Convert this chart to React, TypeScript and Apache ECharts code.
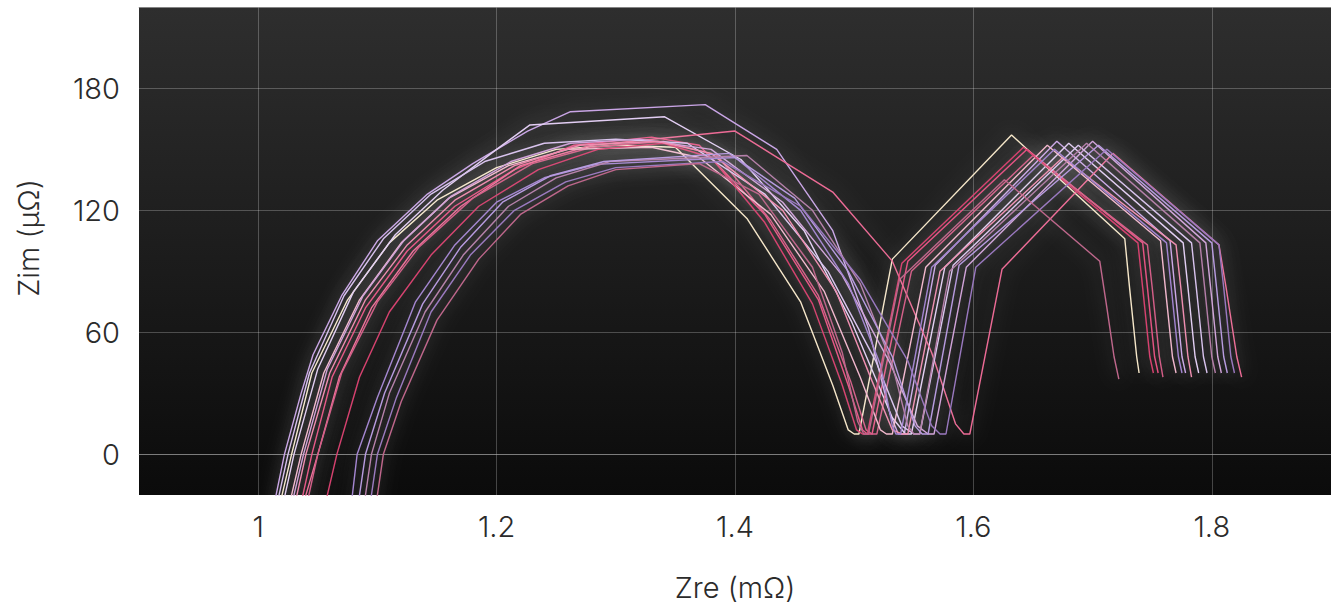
import React, { useEffect, useRef } from "react";
import * as echarts from "echarts";

// X axis: Zre (mΩ), Y axis: Zim (μΩ)
const xTickLabels = ["1", "1.2", "1.4", "1.6", "1.8"];
const yTickLabels = ["0", "60", "120", "180"];

const lineColors = [
  "#f6e7c9", "#e8497e", "#c9a4e6", "#e2cdf3", "#ee6a96", "#d55a86",
  "#f2b6cc", "#d93f6f", "#d8c2ee", "#cfa0d8", "#f08db0",
  "#a283d0", "#b47ca8", "#b79ae0", "#9a78c0", "#c0668c",
];

const line1 = [[1.012,-40],[1.028,0],[1.045,40],[1.075,76],[1.11,104],[1.15,125],[1.2,141],[1.25,150],[1.3,152],[1.35,151],[1.41,116],[1.455,75],[1.482,34],[1.495,12],[1.5,10],[1.504,10],[1.532,96],[1.632,157],[1.727,106],[1.731,82],[1.737,48],[1.739,40]];
const line2 = [[1.03,-40],[1.045,0],[1.062,38],[1.09,72],[1.125,100],[1.165,122],[1.215,140],[1.265,152],[1.33,156],[1.37,152],[1.425,118],[1.47,76],[1.495,34],[1.507,12],[1.511,10],[1.515,10],[1.545,95],[1.645,150],[1.742,104],[1.746,82],[1.752,48],[1.755,40]];
const line3 = [[1.008,-40],[1.022,0],[1.036,30],[1.046,49],[1.07,78],[1.1,105],[1.142,128],[1.18,143],[1.226,159],[1.262,168.5],[1.375,172],[1.435,150],[1.482,110],[1.512,62],[1.53,20],[1.537,10],[1.542,10],[1.568,93],[1.67,154],[1.765,105],[1.769,82],[1.775,48],[1.778,40]];
const line4 = [[1.015,-40],[1.03,0],[1.05,42],[1.08,80],[1.115,108],[1.155,130],[1.2,150],[1.228,162],[1.341,166],[1.405,145],[1.458,110],[1.498,65],[1.532,18],[1.543,10],[1.548,10],[1.576,92],[1.68,153],[1.776,104],[1.78,82],[1.786,48],[1.789,40]];
const line5 = [[1.03,-40],[1.05,0],[1.068,38],[1.095,72],[1.13,100],[1.17,122],[1.22,142],[1.28,152],[1.4,159],[1.482,129],[1.532,95],[1.565,50],[1.585,15],[1.592,10],[1.597,10],[1.624,91],[1.717,148],[1.806,103],[1.812,82],[1.821,48],[1.825,38]];
const line6 = [[1.035,-40],[1.05,0],[1.07,40],[1.1,75],[1.135,102],[1.18,126],[1.23,143],[1.28,151],[1.34,154],[1.385,147],[1.43,115],[1.47,78],[1.497,36],[1.51,12],[1.515,10],[1.519,10],[1.548,90],[1.65,147],[1.746,103],[1.75,82],[1.756,48],[1.759,38]];
const line7 = [[1.02,-40],[1.036,0],[1.055,40],[1.085,76],[1.12,104],[1.16,126],[1.21,142],[1.26,150],[1.33,151],[1.37,146],[1.43,118],[1.475,80],[1.505,38],[1.522,12],[1.527,10],[1.532,10],[1.56,92],[1.662,152],[1.757,105],[1.761,82],[1.767,48],[1.77,40]];
const line8 = [[1.05,-40],[1.066,0],[1.085,38],[1.11,70],[1.145,98],[1.185,122],[1.235,140],[1.285,150],[1.34,153],[1.38,146],[1.425,114],[1.465,74],[1.49,34],[1.502,12],[1.507,10],[1.511,10],[1.54,94],[1.642,151],[1.738,104],[1.742,82],[1.748,48],[1.751,40]];
const line9 = [[1.01,-40],[1.025,0],[1.043,40],[1.072,78],[1.105,106],[1.145,128],[1.19,144],[1.24,153],[1.3,155],[1.36,153],[1.425,128],[1.478,90],[1.518,46],[1.54,14],[1.55,10],[1.555,10],[1.583,93],[1.688,152],[1.783,104],[1.787,82],[1.793,48],[1.796,40]];
const line10 = [[1.022,-40],[1.038,0],[1.058,42],[1.088,78],[1.122,105],[1.162,127],[1.212,144],[1.262,153],[1.32,155],[1.38,150],[1.44,124],[1.49,88],[1.53,45],[1.553,14],[1.562,10],[1.567,10],[1.594,92],[1.7,154],[1.795,104],[1.799,82],[1.805,48],[1.808,40]];
const line11 = [[1.025,-40],[1.04,0],[1.06,40],[1.09,76],[1.125,103],[1.165,125],[1.215,142],[1.27,152],[1.335,154],[1.38,148],[1.44,120],[1.485,80],[1.515,36],[1.532,12],[1.54,10],[1.545,10],[1.572,90],[1.675,146],[1.77,103],[1.774,82],[1.78,48],[1.783,38]];
const line12 = [[1.075,-40],[1.083,0],[1.1,28],[1.132,75],[1.165,103],[1.2,124],[1.24,136],[1.284,142.6],[1.4,146],[1.455,120],[1.495,84],[1.522,44],[1.532,14],[1.535,10],[1.539,10],[1.565,92],[1.668,150],[1.762,104],[1.766,82],[1.772,48],[1.775,40]];
const line13 = [[1.085,-40],[1.095,0],[1.11,30],[1.14,70],[1.172,98],[1.21,122],[1.25,136],[1.295,144],[1.41,147],[1.465,120],[1.505,84],[1.532,44],[1.545,14],[1.55,10],[1.555,10],[1.58,90],[1.695,153],[1.79,104],[1.794,82],[1.8,48],[1.803,40]];
const line14 = [[1.08,-40],[1.09,0],[1.106,30],[1.138,74],[1.17,102],[1.205,124],[1.245,137],[1.29,144],[1.395,148],[1.45,126],[1.495,90],[1.532,48],[1.551,14],[1.557,10],[1.562,10],[1.588,93],[1.705,152],[1.8,104],[1.804,82],[1.81,48],[1.813,40]];
const line15 = [[1.09,-40],[1.1,0],[1.116,28],[1.145,70],[1.178,98],[1.215,120],[1.258,134],[1.3,141],[1.39,144],[1.455,122],[1.505,86],[1.545,46],[1.565,14],[1.572,10],[1.577,10],[1.602,92],[1.712,150],[1.806,103],[1.81,82],[1.816,48],[1.819,40]];
const line16 = [[1.095,-40],[1.105,0],[1.12,26],[1.15,66],[1.185,96],[1.22,118],[1.26,132],[1.3,140],[1.37,143],[1.42,128],[1.465,92],[1.49,50],[1.503,16],[1.508,10],[1.512,10],[1.538,86],[1.626,135],[1.706,95],[1.712,72],[1.718,48],[1.722,37]];

const allLines = [line1, line2, line3, line4, line5, line6, line7, line8, line9, line10, line11, line12, line13, line14, line15, line16];

const FONT = "Inter, 'Noto Sans', sans-serif";
const GRID_COLOR = "rgba(255,255,255,0.24)";

export default function App() {
  const ref = useRef<HTMLDivElement>(null);
  useEffect(() => {
    if (!ref.current) return;
    const chart = echarts.init(ref.current, null, { renderer: "svg" });
    const labelStyle = { color: "#2b2b2b", fontSize: 29, fontFamily: FONT, fontWeight: 300 };
    chart.setOption({
      animation: false,
      backgroundColor: "#ffffff",
      grid: {
        left: 139, right: 0, top: 7, bottom: 110,
        outerBoundsMode: "none",
        containLabel: false,
        show: true, borderWidth: 0,
        backgroundColor: new echarts.graphic.LinearGradient(0, 0, 0, 1, [
          { offset: 0, color: "#2e2e2e" },
          { offset: 1, color: "#0b0b0b" },
        ]),
      },
      xAxis: [
        {
          type: "value", min: 0.9, max: 1.9, interval: 0.1,
          name: "Zre (mΩ)", nameLocation: "middle", nameGap: 78,
          nameTextStyle: { ...labelStyle },
          axisLine: { show: true, lineStyle: { color: "rgba(160,160,160,0.6)", width: 1 } },
          axisTick: { show: false },
          axisLabel: {
            ...labelStyle, margin: 17,
            formatter: (v: number) => {
              const k = Math.round(v * 10);
              if (k % 2 !== 0 || k < 10 || k > 18) return "";
              return xTickLabels[(k - 10) / 2];
            },
          },
          splitLine: { show: true, lineStyle: { color: ["rgba(0,0,0,0)", GRID_COLOR], width: 1 } },
        },
        {
          type: "value", min: 0.9, max: 1.9, position: "top",
          axisLine: { show: true, lineStyle: { color: "rgba(170,170,170,0.7)", width: 1 } },
          axisTick: { show: false }, axisLabel: { show: false }, splitLine: { show: false },
        },
      ],
      yAxis: {
        type: "value", min: -20, max: 220, interval: 20,
        name: "Zim (μΩ)", nameLocation: "middle", nameGap: 96, nameRotate: 90,
        nameTextStyle: { ...labelStyle, padding: [0, 0, 0, 26] },
        axisLine: { show: false }, axisTick: { show: false },
        axisLabel: {
          ...labelStyle, margin: 19,
          formatter: (v: number) => {
            const r = Math.round(v);
            if (r % 60 !== 0 || r < 0) return "";
            return yTickLabels[r / 60];
          },
        },
        splitLine: { show: true, lineStyle: { color: ["rgba(0,0,0,0)", GRID_COLOR, "rgba(0,0,0,0)"], width: 1 } },
      },
      series: allLines.map((d, i) => ({
        type: "line",
        xAxisIndex: 0,
        data: d,
        showSymbol: false,
        symbol: "none",
        silent: true,
        clip: true,
        lineStyle: {
          color: lineColors[i], width: 1.4,
          shadowBlur: 18, shadowColor: "rgba(255,255,255,0.35)",
        },
      })),
    });
    return () => chart.dispose();
  }, []);
  return <div ref={ref} style={{ position: "fixed", left: 0, top: 0, width: 1331, height: 605 }} />;
}
